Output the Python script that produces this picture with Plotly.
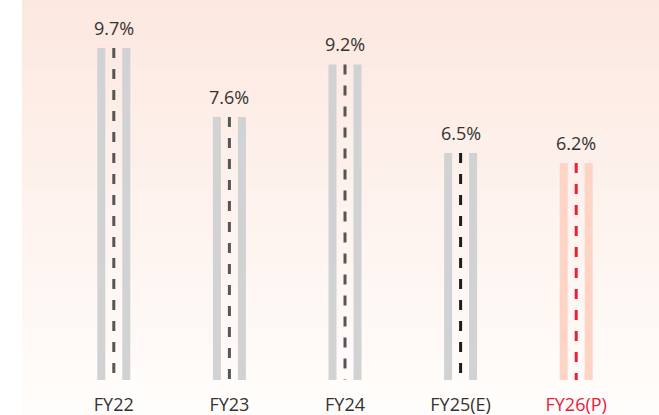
import plotly.graph_objects as go

# Annual growth rate by fiscal year
categories = ["FY22", "FY23", "FY24", "FY25(E)", "FY26(P)"]
growth = [9.7, 7.6, 9.2, 6.5, 6.2]
value_labels = ["9.7%", "7.6%", "9.2%", "6.5%", "6.2%"]

# Styling
stripe_colors = ["#d1d2d4", "#d1d2d4", "#d1d2d4", "#d1d2d4", "#fdd4c6"]
dash_colors = ["#555555", "#555555", "#555555", "#1c1c1c", "#e8213b"]
tick_colors = ["#333333", "#333333", "#333333", "#333333", "#e8213b"]
FLOOR = -0.405          # bars run slightly below the zero line
Y_TOP = 10.855
STRIPE_W = 0.0692       # width of each side stripe (category units)
STRIPE_GAP = 0.0735     # half gap between the two stripes
FONT = "Open Sans"
FONT_SIZE = 18

fig = go.Figure()

lengths = [v - FLOOR for v in growth]

# left and right stripes of each bar
fig.add_trace(go.Bar(
    x=categories, y=lengths, base=FLOOR,
    offset=-(STRIPE_GAP + STRIPE_W), width=STRIPE_W,
    marker=dict(color=stripe_colors, line=dict(width=0)),
    hoverinfo="skip", showlegend=False,
))
fig.add_trace(go.Bar(
    x=categories, y=lengths, base=FLOOR,
    offset=STRIPE_GAP, width=STRIPE_W,
    marker=dict(color=stripe_colors, line=dict(width=0)),
    hoverinfo="skip", showlegend=False,
))

# dashed centre line of each bar, drawn from the top down
for cat, v, c in zip(categories, growth, dash_colors):
    fig.add_trace(go.Scatter(
        x=[cat, cat], y=[v, FLOOR], mode="lines",
        line=dict(color=c, width=3, dash="10px,11px"),
        hoverinfo="skip", showlegend=False,
    ))

# value labels above bars
for cat, v, t in zip(categories, growth, value_labels):
    fig.add_annotation(
        x=cat, y=v, text=t, showarrow=False,
        yanchor="bottom", yshift=6,
        font=dict(family=FONT, size=FONT_SIZE, color="#333333"),
    )

# soft vertical background gradient
n_bands = 90
top_rgb = (252, 232, 224)
bot_rgb = (255, 253, 251)
px_left, px_right = 56, 634
py_top, py_bot = 10, 380
pw, ph = px_right - px_left, py_bot - py_top
x0 = (22 - px_left) / pw
x1 = (659 - px_left) / pw
y_hi = (py_bot - 0) / ph
y_lo = (py_bot - 415) / ph
for i in range(n_bands):
    f = i / (n_bands - 1)
    r = round(top_rgb[0] + (bot_rgb[0] - top_rgb[0]) * f)
    g = round(top_rgb[1] + (bot_rgb[1] - top_rgb[1]) * f)
    b = round(top_rgb[2] + (bot_rgb[2] - top_rgb[2]) * f)
    ya = y_hi - (y_hi - y_lo) * i / n_bands
    yb = y_hi - (y_hi - y_lo) * (i + 1) / n_bands
    fig.add_shape(
        type="rect", xref="paper", yref="paper",
        x0=x0, x1=x1, y0=yb - 0.002, y1=ya + 0.002,
        fillcolor=f"rgb({r},{g},{b})", line=dict(width=0), layer="below",
    )

ticktext = [f'<span style="color:{c}">{t}</span>' for t, c in zip(categories, tick_colors)]

fig.update_layout(
    width=659, height=415,
    margin=dict(l=px_left, r=659 - px_right, t=py_top, b=415 - py_bot,
                autoexpand=False),
    paper_bgcolor="#ffffff",
    plot_bgcolor="rgba(0,0,0,0)",
    barmode="overlay",
    font=dict(family=FONT, size=FONT_SIZE, color="#333333"),
    xaxis=dict(
        type="category", range=[-0.5, 4.5],
        tickmode="array", tickvals=categories, ticktext=ticktext,
        showgrid=False, zeroline=False, showline=False, ticks="",
        ticklabelstandoff=12, automargin=False,
        tickfont=dict(family=FONT, size=FONT_SIZE, color="#333333"),
    ),
    yaxis=dict(
        range=[FLOOR, Y_TOP], visible=False,
        showgrid=False, zeroline=False,
    ),
)

fig.write_html("out.html")
